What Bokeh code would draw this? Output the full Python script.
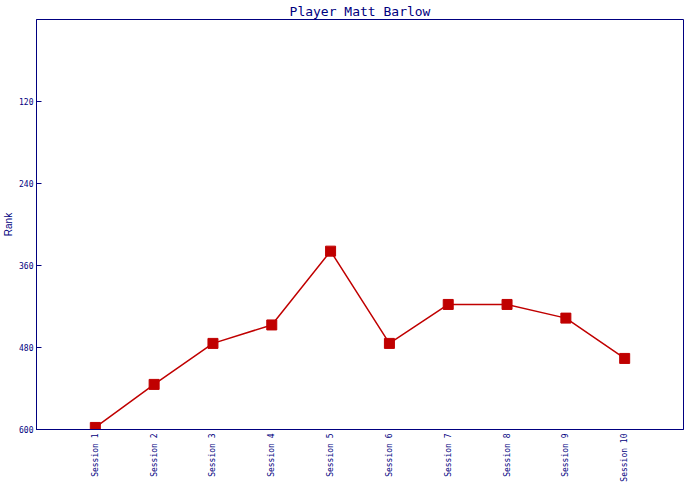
import math
from bokeh.plotting import figure
from bokeh.models import FactorRange, Range1d, FixedTicker, ColumnDataSource
from bokeh.embed import file_html
from bokeh.resources import INLINE

# ---- data ----
sessions = ["Session 1", "Session 2", "Session 3", "Session 4", "Session 5",
            "Session 6", "Session 7", "Session 8", "Session 9", "Session 10"]
ranks = [597, 534, 474, 447, 339, 474, 417, 417, 437, 496]
y_ticks = [120, 240, 360, 480, 600]
title_text = "Player Matt Barlow"
y_label = "Rank"

NAVY = "#000080"
RED = "#c00000"

src = ColumnDataSource(dict(session=sessions, rank=ranks))

p = figure(
    width=684, height=484,
    x_range=FactorRange(factors=sessions, range_padding=0.5, range_padding_units="absolute"),
    y_range=Range1d(600, 0),
    output_backend="svg", toolbar_location=None,
    title=title_text,
    min_border_left=29, min_border_right=1, min_border_top=4, min_border_bottom=0,
)

p.background_fill_color = "white"
p.border_fill_color = "white"
p.outline_line_color = NAVY
p.outline_line_width = 1
p.grid.visible = False

p.title.align = "center"
p.title.text_color = NAVY
p.title.text_font = "DejaVu Sans Mono"
p.title.text_font_size = "13px"
p.title.text_font_style = "normal"
p.title.standoff = 2

p.line("session", "rank", source=src, line_color=RED, line_width=1.5)
p.scatter("session", "rank", source=src, marker="square", size=10,
          fill_color=RED, line_color=RED)

xa = p.xaxis[0]
xa.axis_line_color = NAVY
xa.major_tick_line_color = None
xa.major_tick_in = 0
xa.major_tick_out = 0
xa.minor_tick_line_color = None
xa.major_label_orientation = math.pi / 2
xa.major_label_text_color = NAVY
xa.major_label_text_font = "DejaVu Sans Mono"
xa.major_label_text_font_size = "8px"
xa.major_label_standoff = 4

ya = p.yaxis[0]
ya.ticker = FixedTicker(ticks=y_ticks)
ya.axis_line_color = NAVY
ya.major_tick_line_color = NAVY
ya.major_tick_in = 5
ya.major_tick_out = 0
ya.minor_tick_line_color = None
ya.major_label_text_color = NAVY
ya.major_label_text_font = "DejaVu Sans Mono"
ya.major_label_text_font_size = "8px"
ya.major_label_standoff = 3
ya.axis_label = y_label
ya.axis_label_text_color = NAVY
ya.axis_label_text_font = "Liberation Sans"
ya.axis_label_text_font_size = "10px"
ya.axis_label_text_font_style = "normal"
ya.axis_label_standoff = 2

open("out.html", "w").write(file_html(p, INLINE))
